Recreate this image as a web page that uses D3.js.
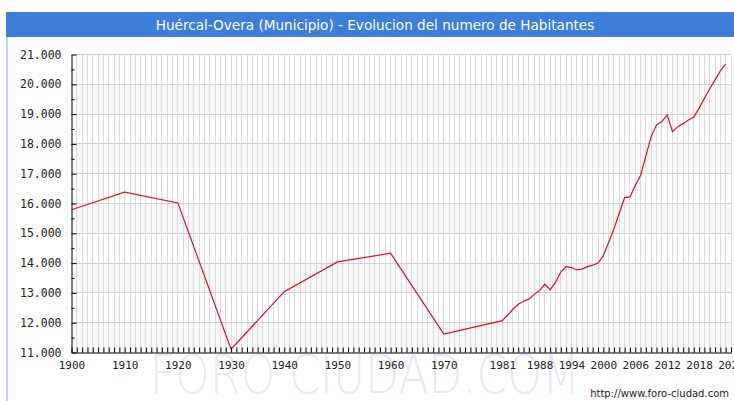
<!DOCTYPE html>
<html><head><meta charset="utf-8">
<script src="https://cdn.jsdelivr.net/npm/d3@7"></script>
<style>html,body{margin:0;padding:0;background:#fff;}svg{display:block;}</style>
</head><body>
<svg id="c" width="734" height="401"></svg>
<script>
const title = "Huércal-Overa (Municipio) - Evolucion del numero de Habitantes";
const years = [1900,1910,1920,1930,1940,1950,1960,1970,1981,1982,1983,1984,1985,1986,1987,1988,1989,1990,1991,1992,1993,1994,1995,1996,1997,1998,1999,2000,2001,2002,2003,2004,2005,2006,2007,2008,2009,2010,2011,2012,2013,2014,2015,2016,2017,2018,2019,2020,2021,2022,2023];
const population = [15790,16380,16020,11110,13040,14040,14330,11620,12070,12250,12450,12620,12720,12790,12950,13080,13290,13100,13350,13700,13880,13850,13770,13800,13880,13930,14000,14250,14700,15150,15680,16200,16220,16600,16950,17600,18250,18640,18750,18970,18410,18580,18680,18800,18900,19200,19530,19850,20150,20450,20680];
const xTickLabels = [1900,1910,1920,1930,1940,1950,1960,1970,1981,1988,1994,2000,2006,2012,2018,2024];
const yTicks = [11000,12000,13000,14000,15000,16000,17000,18000,19000,20000,21000];

const svg = d3.select("#c");
const L = 71.5, R = 731, T = 54.5, B = 352.5;
const x = d3.scaleLinear().domain([1900, 2024]).range([L, R]);
const y = d3.scaleLinear().domain([11000, 21000]).range([B, T]);
const loc = d3.formatLocale({decimal: ",", thousands: ".", grouping: [3], currency: ["", ""]});
const fmt = loc.format(",d");

// title bar
svg.append("rect").attr("x", 6).attr("y", 12).attr("width", 728).attr("height", 25).attr("fill", "#3d7ed9");
svg.append("line").attr("x1", 7).attr("x2", 7).attr("y1", 37).attr("y2", 401).attr("stroke", "#a9c6ee").attr("stroke-width", 1.5);
svg.append("text").attr("x", 375).attr("y", 29.5).attr("text-anchor", "middle")
  .attr("fill", "#fff").attr("font-family", "DejaVu Sans").attr("font-size", 13.6).text(title);

// bands
const bands = d3.range(11000, 21000, 1000);
svg.append("g").selectAll("rect").data(bands).join("rect")
  .attr("x", L).attr("width", R - L)
  .attr("y", d => y(d + 1000)).attr("height", d => y(d) - y(d + 1000))
  .attr("fill", (d, i) => i % 2 ? "#ffffff" : "#f7f7f7");

// watermark
const wm = svg.append("text").attr("x", 150).attr("y", 393).attr("font-family", "DejaVu Sans")
  .attr("font-weight", 300).attr("font-size", 54).attr("textLength", 430).attr("lengthAdjust", "spacingAndGlyphs");
wm.append("tspan").attr("fill", "#ebebeb").text("FORO ");
wm.append("tspan").attr("fill", "#e5e9f7").text("CIUDAD.COM");

// vertical grid
svg.append("g").selectAll("line").data(d3.range(1901, 2025)).join("line")
  .attr("x1", d => x(d)).attr("x2", d => x(d)).attr("y1", T).attr("y2", B)
  .attr("stroke", "#dcdcdc").attr("stroke-width", 1).attr("shape-rendering", "crispEdges");
// horizontal grid
svg.append("g").selectAll("line").data(yTicks.slice(1)).join("line")
  .attr("x1", L).attr("x2", R).attr("y1", d => y(d)).attr("y2", d => y(d))
  .attr("stroke", "#d2d2d2").attr("stroke-width", 1).attr("shape-rendering", "crispEdges");

// line
const line = d3.line().x((d, i) => x(years[i])).y(d => y(d));
svg.append("path").datum(population).attr("d", line).attr("fill", "none")
  .attr("stroke", "#e0101e").attr("stroke-width", 1.2);

// axes
const yAxis = svg.append("g").attr("transform", `translate(${L},0)`)
  .call(d3.axisLeft(y).tickValues(yTicks).tickFormat(fmt).tickSize(0).tickPadding(10));
yAxis.select(".domain").attr("stroke", "#000");
yAxis.selectAll("text").attr("font-family", "DejaVu Sans Mono").attr("font-size", 11.5).attr("fill", "#222");
svg.append("g").attr("transform", `translate(${L},0)`)
  .call(d3.axisRight(y).tickValues(yTicks).tickSize(5).tickFormat(""))
  .call(g => g.select(".domain").remove());
svg.append("g").attr("transform", `translate(${L},0)`)
  .call(d3.axisRight(y).tickValues(d3.range(11500, 21000, 1000)).tickSize(3).tickFormat(""))
  .call(g => g.select(".domain").remove());

const xAxis = svg.append("g").attr("transform", `translate(0,${B})`)
  .call(d3.axisBottom(x).tickValues(xTickLabels).tickFormat(d3.format("d")).tickSize(0).tickPadding(9));
xAxis.select(".domain").attr("stroke", "#000");
xAxis.selectAll("text").attr("font-family", "DejaVu Sans Mono").attr("font-size", 11).attr("fill", "#222");
svg.append("g").attr("transform", `translate(0,${B})`)
  .call(d3.axisTop(x).tickValues(d3.range(1900, 2025)).tickSize(5).tickFormat(""))
  .call(g => g.select(".domain").remove());

// url
svg.append("text").attr("x", 729).attr("y", 397).attr("text-anchor", "end")
  .attr("font-family", "DejaVu Sans").attr("font-size", 10).attr("fill", "#222").text("http://www.foro-ciudad.com");
</script>
</body></html>
